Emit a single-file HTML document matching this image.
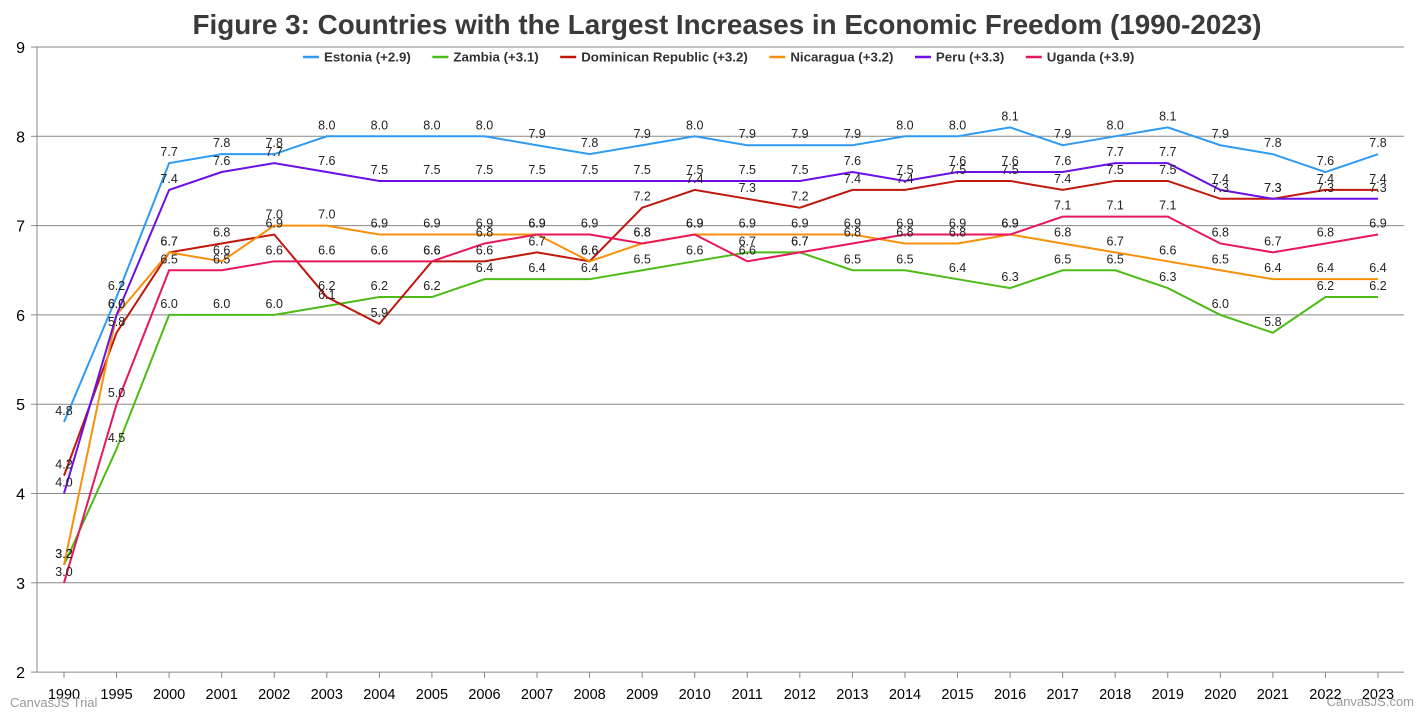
<!DOCTYPE html>
<html><head><meta charset="utf-8"><style>
body{margin:0;background:#fff;}
svg text{font-family:"Liberation Sans",Arial,sans-serif;}
</style></head><body>
<svg id="c" width="1422" height="710" xmlns="http://www.w3.org/2000/svg">
<text x="727" y="34" text-anchor="middle" font-size="27.8" font-weight="bold" fill="#3a3a3a">Figure 3: Countries with the Largest Increases in Economic Freedom (1990-2023)</text>
<g id="g"></g>
</svg>
<script>
const g=document.getElementById('g');
const NS='http://www.w3.org/2000/svg';
function el(t,a,txt){const e=document.createElementNS(NS,t);for(const k in a)e.setAttribute(k,a[k]);if(txt!=null)e.textContent=txt;g.appendChild(e);return e;}
const L=37,R=1404;
const Y=v=>47+(9-v)*89.3;
const X=i=>64+i*52.56;
const years=[1990,1995,2000,2001,2002,2003,2004,2005,2006,2007,2008,2009,2010,2011,2012,2013,2014,2015,2016,2017,2018,2019,2020,2021,2022,2023];
for(let v=2;v<=9;v++){el('line',{x1:L,x2:R,y1:Y(v),y2:Y(v),stroke:'#888','stroke-width':1});
el('line',{x1:L-6,x2:L,y1:Y(v),y2:Y(v),stroke:'#888'});
el('text',{x:L-12,y:Y(v)+6,'text-anchor':'end','font-size':16,fill:'#000'},v);}
el('line',{x1:L,x2:L,y1:47,y2:672,stroke:'#888'});
years.forEach((y,i)=>{el('line',{x1:X(i),x2:X(i),y1:672,y2:678,stroke:'#888'});
el('text',{x:X(i),y:699,'text-anchor':'middle','font-size':14.5,fill:'#000'},y);});
const S=[
['Estonia (+2.9)','#2f9bf3',[4.8,6.2,7.7,7.8,7.8,8.0,8.0,8.0,8.0,7.9,7.8,7.9,8.0,7.9,7.9,7.9,8.0,8.0,8.1,7.9,8.0,8.1,7.9,7.8,7.6,7.8]],
['Zambia (+3.1)','#4cbb17',[3.2,4.5,6.0,6.0,6.0,6.1,6.2,6.2,6.4,6.4,6.4,6.5,6.6,6.7,6.7,6.5,6.5,6.4,6.3,6.5,6.5,6.3,6.0,5.8,6.2,6.2]],
['Dominican Republic (+3.2)','#c0170c',[4.2,5.8,6.7,6.8,6.9,6.2,5.9,6.6,6.6,6.7,6.6,7.2,7.4,7.3,7.2,7.4,7.4,7.5,7.5,7.4,7.5,7.5,7.3,7.3,7.4,7.4]],
['Nicaragua (+3.2)','#f7900b',[3.2,6.0,6.7,6.6,7.0,7.0,6.9,6.9,6.9,6.9,6.6,6.8,6.9,6.9,6.9,6.9,6.8,6.8,6.9,6.8,6.7,6.6,6.5,6.4,6.4,6.4]],
['Peru (+3.3)','#6a0fe6',[4.0,6.0,7.4,7.6,7.7,7.6,7.5,7.5,7.5,7.5,7.5,7.5,7.5,7.5,7.5,7.6,7.5,7.6,7.6,7.6,7.7,7.7,7.4,7.3,7.3,7.3]],
['Uganda (+3.9)','#e8175d',[3.0,5.0,6.5,6.5,6.6,6.6,6.6,6.6,6.8,6.9,6.9,6.8,6.9,6.6,6.7,6.8,6.9,6.9,6.9,7.1,7.1,7.1,6.8,6.7,6.8,6.9]]];
S.forEach(s=>{el('polyline',{points:s[2].map((v,i)=>X(i)+','+Y(v)).join(' '),fill:'none',stroke:s[1],'stroke-width':2});});
S.forEach(s=>{s[2].forEach((v,i)=>el('text',{x:X(i),y:Y(v)-7,'text-anchor':'middle','font-size':12.5,fill:'#222'},v.toFixed(1)));});
let lx=303;
S.forEach(s=>{el('line',{x1:lx,x2:lx+16,y1:57,y2:57,stroke:s[1],'stroke-width':2.5});
const t=el('text',{x:lx+21,y:61.5,'font-size':13.3,'font-weight':'bold',fill:'#333'},s[0]);
lx+=21+t.getComputedTextLength()+21.5;});
el('text',{x:10,y:707,'font-size':13,fill:'#999'},'CanvasJS Trial');
el('text',{x:1414,y:706,'text-anchor':'end','font-size':13,fill:'#999'},'CanvasJS.com');
</script>
</body></html>
